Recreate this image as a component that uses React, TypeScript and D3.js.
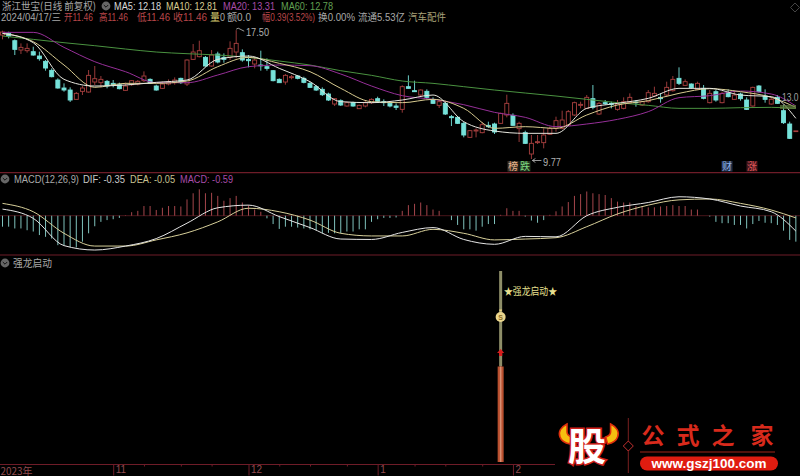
import React, { useRef, useEffect } from 'react';
import * as d3 from 'd3';

/* K-line values, one per trading day */
const highs = [
  17.47,17.41,16.95,16.71,16.71,16.51,16.21,15.71,15.21,14.61,
  14.31,14.07,13.79,14.15,15.11,15.35,14.75,14.51,14.51,14.35,
  14.35,14.51,14.51,15.03,14.61,14.23,14.41,14.55,14.67,14.65,
  15.75,16.67,16.87,15.95,16.31,16.21,16.11,16.83,17.50,16.35,
  16.01,15.91,16.27,15.81,15.11,14.61,14.87,14.81,14.81,14.71,
  14.41,14.21,14.07,13.75,13.41,13.35,13.21,13.21,13.03,13.25,
  13.41,13.51,13.35,13.19,13.11,14.19,14.79,14.47,13.95,13.95,
  13.47,13.27,13.19,12.41,12.35,11.99,11.51,11.61,11.99,12.01,
  11.95,12.55,13.63,12.51,12.01,11.47,11.21,11.21,11.61,11.71,
  12.31,12.67,12.71,13.21,13.21,13.61,14.21,13.19,13.31,13.21,
  13.31,13.47,13.71,13.31,13.27,13.91,14.11,13.71,14.41,14.75,
  15.27,14.55,14.31,14.41,14.21,13.91,13.91,13.81,13.95,13.87,
  13.75,13.47,14.11,14.21,13.95,13.47,13.61,13.01,12.01,11.46,
];
const lows = [
  16.95,17.01,16.01,16.07,16.15,15.97,15.67,15.07,14.67,13.99,
  13.81,13.19,13.35,13.61,13.75,14.21,14.07,14.01,14.07,13.95,
  13.87,14.15,14.19,14.39,14.27,13.87,13.97,14.19,14.23,14.27,
  14.15,15.71,15.87,15.31,15.31,15.51,15.55,15.71,15.81,15.61,
  15.27,15.21,15.07,15.07,14.43,14.35,14.23,14.55,14.55,14.31,
  14.03,13.85,13.55,13.25,12.95,12.95,12.91,12.91,12.77,12.87,
  13.07,13.17,12.95,12.87,12.71,12.55,13.99,13.79,13.55,13.41,
  13.07,12.83,12.41,11.75,11.87,11.07,11.03,11.07,11.31,11.63,
  11.27,11.87,12.27,11.75,10.79,10.67,9.77,10.67,10.41,11.21,
  11.41,11.55,11.75,12.35,12.81,12.79,12.75,12.41,13.01,12.81,
  12.67,12.75,13.11,12.91,12.95,13.15,13.51,13.15,13.51,13.81,
  14.21,14.15,13.99,13.91,13.35,13.11,13.21,13.11,13.47,13.31,
  13.27,12.71,12.91,13.75,13.15,13.03,13.07,11.87,10.97,11.46,
];
const opens = [
  17.21,17.31,16.87,16.31,16.27,16.21,15.95,15.63,15.09,14.51,
  14.03,13.91,13.35,13.83,13.79,14.39,14.35,14.43,14.31,14.23,
  13.89,14.23,14.27,14.47,14.55,14.15,14.01,14.27,14.35,14.61,
  14.27,15.75,15.91,15.87,15.35,16.07,15.87,15.87,16.19,16.15,
  15.75,15.47,15.41,15.31,15.07,14.55,14.39,14.65,14.75,14.61,
  14.31,14.11,13.95,13.67,13.07,13.27,12.95,13.15,12.79,12.95,
  13.15,13.39,13.21,13.11,12.95,12.75,14.11,13.87,13.61,13.83,
  13.35,12.99,13.11,12.31,12.27,11.91,11.07,11.45,11.35,11.79,
  11.87,11.91,12.41,12.39,11.59,11.35,10.07,10.75,10.75,11.25,
  11.61,11.61,11.81,12.41,12.99,12.81,13.39,12.47,13.15,13.11,
  12.75,12.81,13.15,13.19,13.01,13.21,13.55,13.47,13.61,13.87,
  14.61,14.19,14.27,13.95,14.01,13.15,13.81,13.15,13.75,13.35,
  13.67,13.31,12.95,14.15,13.55,13.07,13.47,12.67,11.87,11.46,
];
const closes = [
  17.39,17.15,16.35,16.47,16.41,16.01,15.79,15.23,14.71,14.03,
  13.91,13.31,13.71,14.03,14.79,14.59,14.55,14.15,14.23,13.99,
  14.15,14.47,14.43,14.75,14.31,13.91,14.27,14.39,14.51,14.35,
  15.71,16.19,16.27,15.35,16.01,15.59,15.75,16.41,16.71,15.71,
  15.67,15.71,15.37,15.21,14.47,14.35,14.79,14.71,14.61,14.37,
  14.07,13.91,13.63,13.31,13.39,13.01,13.15,12.95,12.99,13.15,
  13.35,13.23,13.15,12.95,12.87,14.11,14.01,13.81,13.91,13.47,
  13.11,13.21,12.47,12.25,11.91,11.21,11.47,11.51,11.83,11.71,
  11.39,12.51,13.11,11.79,11.91,10.71,10.71,10.81,11.21,11.61,
  12.07,12.11,12.61,13.15,13.05,13.47,12.87,13.11,13.09,13.05,
  13.07,13.21,13.47,13.15,13.21,13.75,13.71,13.39,14.07,14.55,
  14.31,14.41,14.05,14.31,13.41,13.71,13.31,13.71,13.51,13.61,
  13.39,12.75,14.07,13.81,13.35,13.35,13.11,11.95,11.01,11.46,
];

/* moving averages and MACD lines, read every fifth bar */
const lineDays = [0,5,10,15,20,25,30,35,40,45,50,55,60,65,70,75,80,85,90,95,100,105,110,115,120,125,129];
const ma5 = [17.31,16.75,14.55,14.15,14.21,14.37,14.51,15.75,15.95,15.21,14.41,13.21,13.15,13.31,13.61,12.01,11.45,11.31,11.31,12.81,13.11,13.41,14.01,14.01,13.61,13.51,12.21];
const ma10 = [17.31,16.81,15.41,14.07,14.31,14.31,14.45,15.31,15.87,15.51,15.01,14.01,13.21,13.15,13.35,12.81,11.61,11.71,11.61,12.41,13.01,13.27,13.71,13.99,13.81,13.47,12.87];
const ma20 = [17.37,17.37,16.47,15.61,15.01,14.35,14.35,14.81,15.31,15.41,15.37,14.87,14.15,13.57,13.35,13.03,12.57,12.27,11.71,11.87,12.15,12.61,13.45,13.57,13.85,13.67,12.95];
const ma60 = [17.15,16.95,16.75,16.57,16.37,16.19,16.09,16.01,15.87,15.65,15.41,15.07,14.79,14.45,14.31,14.11,13.91,13.73,13.55,13.35,13.15,12.99,12.81,12.81,12.85,12.87,12.81];
const dif = [0.15,-0.06,-0.68,-0.78,-0.69,-0.52,-0.17,0.18,0.24,-0.02,-0.27,-0.53,-0.54,-0.38,-0.27,-0.54,-0.65,-0.47,-0.48,0,0.19,0.30,0.43,0.38,0.22,0.09,-0.35];
const dea = [0.28,0.09,-0.40,-0.69,-0.69,-0.55,-0.39,-0.14,0.17,0.09,-0.10,-0.40,-0.46,-0.46,-0.31,-0.40,-0.55,-0.53,-0.50,-0.25,0.04,0.24,0.36,0.38,0.28,0.13,-0.05];

const macd = [
  -0.25,-0.25,-0.29,-0.29,-0.33,-0.36,-0.44,-0.48,-0.52,-0.67,
  -0.67,-0.71,-0.72,-0.59,-0.40,-0.24,-0.14,-0.10,-0.08,-0.05,
  0.01,0.08,0.11,0.22,0.22,0.13,0.18,0.22,0.22,0.21,
  0.37,0.51,0.60,0.51,0.52,0.45,0.34,0.40,0.45,0.30,
  0.24,0.14,0.09,-0.06,-0.19,-0.30,-0.25,-0.25,-0.27,-0.29,
  -0.31,-0.33,-0.40,-0.39,-0.40,-0.40,-0.36,-0.36,-0.31,-0.31,
  -0.14,-0.08,-0.05,-0.05,-0.04,0.11,0.24,0.27,0.30,0.24,
  0.14,0.11,0,-0.10,-0.21,-0.31,-0.31,-0.34,-0.25,-0.19,
  -0.19,0.02,0.17,0.11,0.11,-0.02,-0.11,-0.16,-0.10,0.02,
  0.10,0.21,0.31,0.45,0.49,0.55,0.51,0.49,0.47,0.40,
  0.32,0.30,0.30,0.22,0.21,0.19,0.19,0.21,0.22,0.24,
  0.22,0.22,0.14,0.14,0,-0.02,-0.14,-0.17,-0.17,-0.21,
  -0.21,-0.29,-0.19,-0.12,-0.16,-0.17,-0.21,-0.34,-0.55,-0.59,
];

/* 强龙启动 signal */
const signalDay = 81;
const signalTop = 100;
const signalBar = 50;

/* time axis */
const monthDays = [18, 40, 61, 83];
const monthLabels = ['11', '12', '1', '2'];
const minorDays = [23, 29, 34, 45, 50, 56, 67, 72, 78];

const CJK = '"Noto Sans CJK SC", sans-serif';
const LATIN = '"Liberation Sans", "Noto Sans CJK SC", sans-serif';
const RED = '#a8403f';
const CYAN = '#76e2da';
const RULE = '#6e1c28';

function HeaderText({ x, x2, y, fill, font = LATIN, children }: any) {
  // text is fitted to the span it has in the screenshot
  return (
    <text x={x} y={y} fill={fill} textLength={x2 - x} lengthAdjust="spacingAndGlyphs" style={{ font: `10.5px ${font}` }}>
      {children}
    </text>
  );
}

function Icon({ cx, cy }: { cx: number; cy: number }) {
  return (
    <g>
      <circle cx={cx} cy={cy} r={4.4} fill="#666" />
      <path d={`M${cx - 2.2} ${cy - 1}l2.2 2.2 2.2-2.2`} fill="none" stroke="#111" strokeWidth={1} />
    </g>
  );
}

export default function App() {
  const plotRef = useRef<SVGGElement>(null);

  useEffect(() => {
    if (!plotRef.current) return;
    const svg = d3.select(plotRef.current);
    svg.selectAll('*').remove();

    const x = d3.scaleLinear().domain([0, 129]).range([2.5, 795.85]);
    const y = d3.scaleLinear().domain([9.77, 17.5]).range([159, 30.2]);
    const yMacd = d3.scaleLinear().domain([0, 1]).range([215.7, 171.7]);
    const ySignal = d3.scaleLinear().domain([0, 100]).range([462, 271]);

    // panel rules
    [172.6, 255].forEach(p => svg.append('line').attr('x1', 0).attr('x2', 800).attr('y1', p).attr('y2', p)
      .attr('stroke', RULE).attr('stroke-width', 1.2));

    // ---- candles ----
    const days = d3.range(highs.length);
    const k = svg.append('g');
    k.selectAll('line.wick').data(days).join('line')
      .attr('class', 'wick')
      .attr('x1', i => x(i)).attr('x2', i => x(i))
      .attr('y1', i => y(highs[i])).attr('y2', i => y(lows[i]))
      .attr('stroke', i => closes[i] >= opens[i] ? RED : CYAN)
      .attr('stroke-width', 0.9);
    k.selectAll('rect.body').data(days).join('rect')
      .attr('class', 'body')
      .attr('x', i => x(i) - 2)
      .attr('width', 4)
      .attr('y', i => y(Math.max(opens[i], closes[i])))
      .attr('height', i => Math.max(0.8, Math.abs(y(opens[i]) - y(closes[i]))))
      .attr('fill', i => closes[i] >= opens[i] ? '#000' : CYAN)
      .attr('stroke', i => closes[i] >= opens[i] ? RED : CYAN)
      .attr('stroke-width', 0.9);

    // ---- moving averages ----
    const maLine = d3.line<number>()
      .x((_, i) => x(lineDays[i]))
      .y(d => y(d))
      .curve(d3.curveMonotoneX);
    const maSeries: [number[], string][] = [[ma60, '#4a9240'], [ma20, '#962f98'], [ma10, '#d8cb90'], [ma5, '#e6e6de']];
    maSeries.forEach(([vals, col]) => {
      svg.append('path').datum(vals).attr('fill', 'none').attr('stroke', col).attr('stroke-width', 1).attr('d', maLine);
    });

    // end of MA60 highlight and clipped price flag
    svg.append('rect').attr('x', 780).attr('y', 105).attr('width', 16).attr('height', 4).attr('fill', '#5f7a3c').attr('opacity', 0.7);
    svg.append('text').attr('x', 782).attr('y', 101).attr('fill', '#a0a0a0').attr('textLength', 16.5)
      .attr('lengthAdjust', 'spacingAndGlyphs').style('font', `10.5px ${LATIN}`).text('13.0');
    svg.append('path').attr('d', 'M795 3l4.5 4.5-4.5 4.5-4.5-4.5z').attr('fill', 'none').attr('stroke', '#444');

    // high / low markers
    svg.append('path').attr('d', `M${x(38)} ${y(17.5) - 1}l2 -1 6 3`).attr('fill', 'none').attr('stroke', '#bbb').attr('stroke-width', 0.8);
    svg.append('text').attr('x', 246).attr('y', 36).attr('fill', '#b0b0b0').attr('textLength', 23)
      .attr('lengthAdjust', 'spacingAndGlyphs').style('font', `10.5px ${LATIN}`).text('17.50');
    svg.append('path').attr('d', `M${x(86) + 1} ${y(9.77) + 1.5}h9M${x(86) + 1} ${y(9.77) + 1.5}l3 -2M${x(86) + 1} ${y(9.77) + 1.5}l3 2`)
      .attr('fill', 'none').attr('stroke', '#bbb').attr('stroke-width', 0.8);
    svg.append('text').attr('x', 543).attr('y', 166).attr('fill', '#b0b0b0').attr('textLength', 18)
      .attr('lengthAdjust', 'spacingAndGlyphs').style('font', `10.5px ${LATIN}`).text('9.77');

    // news tags
    const tags: [number, string, string, string][] = [
      [513, '榜', '#e8b48a', '#3a3026'], [525, '跌', '#7fd87f', '#20301f'],
      [727, '财', '#8fb4e8', '#23304a'], [752, '涨', '#e05a5a', '#40161c'],
    ];
    tags.forEach(([tx, t, col, bg]) => {
      svg.append('rect').attr('x', tx - 5.5).attr('y', 161).attr('width', 11).attr('height', 10.5).attr('fill', bg);
      svg.append('text').attr('x', tx).attr('y', 170).attr('text-anchor', 'middle').attr('fill', col)
        .style('font', `10px ${CJK}`).text(t);
    });

    // ---- MACD ----
    svg.append('line').attr('x1', 0).attr('x2', 800).attr('y1', yMacd(0)).attr('y2', yMacd(0))
      .attr('stroke', '#5a1a22').attr('stroke-width', 0.8);
    svg.append('g').selectAll('line').data(macd).join('line')
      .attr('x1', (_, i) => x(i)).attr('x2', (_, i) => x(i))
      .attr('y1', yMacd(0)).attr('y2', d => yMacd(d))
      .attr('stroke', d => d >= 0 ? '#a5464c' : '#7fc2bc')
      .attr('stroke-width', 1);
    const macdLine = d3.line<number>()
      .x((_, i) => x(lineDays[i]))
      .y(d => yMacd(d))
      .curve(d3.curveMonotoneX);
    svg.append('path').datum(dea).attr('fill', 'none').attr('stroke', '#d8d09a').attr('stroke-width', 1).attr('d', macdLine);
    svg.append('path').datum(dif).attr('fill', 'none').attr('stroke', '#e6e6e6').attr('stroke-width', 1).attr('d', macdLine);

    // ---- signal ----
    const sx = x(signalDay);
    svg.append('line').attr('x1', sx).attr('x2', sx).attr('y1', ySignal(signalTop)).attr('y2', ySignal(signalBar))
      .attr('stroke', '#8e8e68').attr('stroke-width', 3);
    svg.append('rect').attr('x', sx - 3).attr('width', 6).attr('y', ySignal(signalBar)).attr('height', ySignal(0) - ySignal(signalBar))
      .attr('fill', '#b9502f');
    svg.append('line').attr('x1', sx).attr('x2', sx).attr('y1', ySignal(signalBar)).attr('y2', ySignal(0))
      .attr('stroke', '#d98f72').attr('stroke-width', 1.6);
    svg.append('path').attr('d', `M${sx - 1.5} 309.5h3l-0.5 2h-2z`).attr('fill', '#e8cf80');
    svg.append('ellipse').attr('cx', sx).attr('cy', 317).attr('rx', 5).attr('ry', 5).attr('fill', '#ead58c');
    svg.append('text').attr('x', sx).attr('y', 320).attr('text-anchor', 'middle').attr('fill', '#8a6a20')
      .style('font', `bold 7px ${LATIN}`).text('S');
    svg.append('path').attr('d', `M${sx} 349l3.6 4h-2v3h-3.2v-3h-2z`).attr('fill', '#d81e1e');
    svg.append('text').attr('x', 504).attr('y', 295).attr('fill', '#e8e090').attr('textLength', 53)
      .attr('lengthAdjust', 'spacingAndGlyphs').style('font', `10px ${CJK}`).text('★强龙启动★');

    // ---- time axis ----
    const axisG = svg.append('g').attr('transform', 'translate(0,464.5)');
    axisG.append('line').attr('x1', 0).attr('x2', 555).attr('stroke', RULE).attr('stroke-width', 1.2);
    const major = axisG.append('g').call(
      d3.axisBottom(x).tickValues(monthDays).tickSize(11).tickFormat((_, i) => monthLabels[i])
    );
    major.select('.domain').remove();
    major.selectAll('.tick line').attr('stroke', RULE);
    major.selectAll('.tick text')
      .attr('text-anchor', 'start').attr('x', 2).attr('y', 1.5)
      .attr('fill', '#8f4a4e').style('font', `10px ${LATIN}`);
    const minor = axisG.append('g').call(d3.axisBottom(x).tickValues(minorDays).tickSize(2).tickFormat(() => ''));
    minor.select('.domain').remove();
    minor.selectAll('.tick line').attr('stroke', RULE);
    axisG.append('text').attr('x', 0.5).attr('y', 10.5).attr('fill', '#8f4a4e').attr('textLength', 32)
      .attr('lengthAdjust', 'spacingAndGlyphs').style('font', `10px ${CJK}`).text('2023年');
  }, []);

  return (
    <svg width={800} height={476} style={{ position: 'fixed', left: 0, top: 0, background: '#000' }}>
      <g ref={plotRef} />
      {/* header rows */}
      <HeaderText x={2} x2={96} y={10} fill="#a8a8a8" font={CJK}>浙江世宝(日线 前复权)</HeaderText>
      <Icon cx={106} cy={6} />
      <HeaderText x={114} x2={161} y={10} fill="#d8d8d8">MA5: 12.18</HeaderText>
      <HeaderText x={166} x2={217} y={10} fill="#d8cc90">MA10: 12.81</HeaderText>
      <HeaderText x={223} x2={275} y={10} fill="#a84ca8">MA20: 13.31</HeaderText>
      <HeaderText x={281} x2={333} y={10} fill="#62a052">MA60: 12.78</HeaderText>
      <HeaderText x={1} x2={61} y={21} fill="#a8a8a8">2024/04/17/三</HeaderText>
      <HeaderText x={64} x2={93} y={21} fill="#b8474a">开11.46</HeaderText>
      <HeaderText x={99} x2={128} y={21} fill="#b8474a">高11.46</HeaderText>
      <HeaderText x={137} x2={170} y={21} fill="#b8474a">低11.46</HeaderText>
      <HeaderText x={173} x2={207} y={21} fill="#b8474a">收11.46</HeaderText>
      <HeaderText x={210} x2={220} y={21} fill="#d8cc70" font={CJK}>量</HeaderText>
      <HeaderText x={220} x2={225} y={21} fill="#a8a8a8">0</HeaderText>
      <HeaderText x={227} x2={251} y={21} fill="#a8a8a8">额0.0</HeaderText>
      <HeaderText x={262} x2={315} y={21} fill="#b8474a">幅0.39(3.52%)</HeaderText>
      <HeaderText x={318} x2={355} y={21} fill="#a8a8a8">换0.00%</HeaderText>
      <HeaderText x={358} x2={405} y={21} fill="#a8a8a8">流通5.53亿</HeaderText>
      <HeaderText x={408} x2={446} y={21} fill="#a8a078" font={CJK}>汽车配件</HeaderText>
      {/* MACD title */}
      <Icon cx={5} cy={179} />
      <HeaderText x={14} x2={79} y={183} fill="#a8a8a8">MACD(12,26,9)</HeaderText>
      <HeaderText x={83} x2={125} y={183} fill="#c8c8c8">DIF: -0.35</HeaderText>
      <HeaderText x={130} x2={175} y={183} fill="#c8c090">DEA: -0.05</HeaderText>
      <HeaderText x={180} x2={233} y={183} fill="#a84ca8">MACD: -0.59</HeaderText>
      {/* signal title */}
      <Icon cx={5} cy={263} />
      <HeaderText x={13} x2={52} y={267} fill="#a8a8a8" font={CJK}>强龙启动</HeaderText>
      {/* site mark */}
      <g>
        <line x1={628.3} x2={628.3} y1={418} y2={473} stroke="#7a2020" />
        <path d="M628.3 441l5 5-5 5-5-5z" fill="#000" stroke="#c03030" />
        <path d="M567 424c-6 3-9 8-7 13 1 3 5 6 10 7l2-7c-3-1-5-3-5-5z" fill="#f5bf10" stroke="#e0300c" strokeWidth={1.6} />
        <path d="M610.6 424c6 3 9 8 7 13-1 3-5 6-10 7l-2-7c3-1 5-3 5-5z" fill="#f5bf10" stroke="#e0300c" strokeWidth={1.6} />
        <text x={587} y={460} textAnchor="middle" fill="#fff" stroke="#d0201c" strokeWidth={3} paintOrder="stroke"
          style={{ font: `bold 38px ${CJK}` }}>股</text>
        {['公', '式', '之', '家'].map((c, i) => (
          <text key={c} x={[653, 688, 723, 762][i]} y={444} textAnchor="middle" fill="#d82a1c"
            style={{ font: `bold 23px ${CJK}` }}>{c}</text>
        ))}
        <line x1={640} x2={775} y1={452} y2={452} stroke="#a02418" />
        <rect x={640} y={456.5} width={138} height={14} rx={7} fill="#e01c10" />
        <text x={709} y={467.5} textAnchor="middle" fill="#fff" style={{ font: `bold 13.5px ${LATIN}` }}>www.gszj100.com</text>
      </g>
    </svg>
  );
}
